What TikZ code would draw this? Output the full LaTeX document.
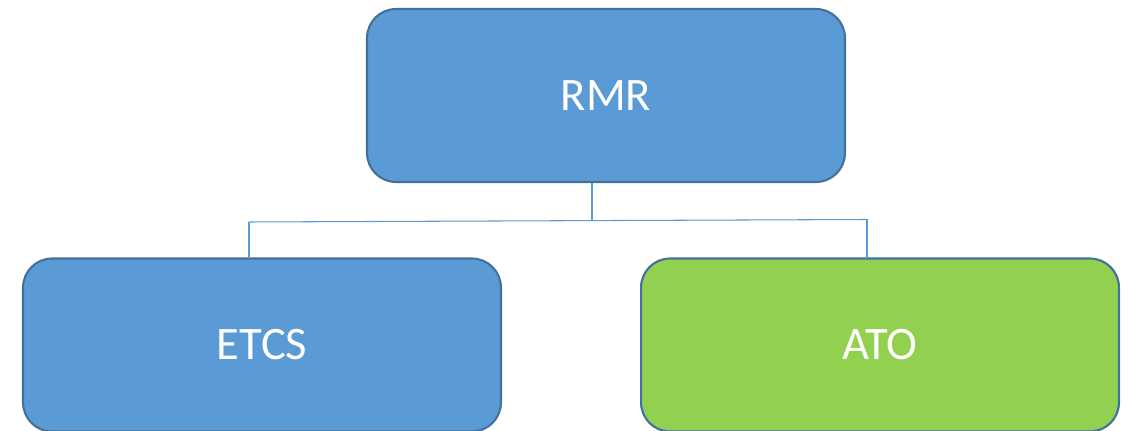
\documentclass[tikz,border=0pt]{standalone}
\usepackage{fontspec}
\setmainfont{Carlito}
\usetikzlibrary{calc}
\definecolor{boxblue}{HTML}{5B9BD5}
\definecolor{boxgreen}{HTML}{92D050}
\definecolor{boxedge}{HTML}{41719C}
\definecolor{linkblue}{HTML}{5B9BD5}
\begin{document}
\begin{tikzpicture}[x=0.02cm,y=-0.02cm,
  unit/.style={draw=boxedge, line width=1.2pt, rounded corners=0.58cm,
    minimum width=9.56cm, minimum height=3.46cm, inner sep=0pt,
    text=white, font=\fontsize{26.5}{31}\selectfont},
  bluebox/.style={unit, fill=boxblue},
  greenbox/.style={unit, fill=boxgreen},
  link/.style={draw=linkblue, line width=0.6pt}]
\useasboundingbox[fill=white] (0,0) rectangle (1128,431);
\node[bluebox]  (rmr)  at (606,95.5)  {RMR};
\node[bluebox]  (etcs) at (262,345)   {ETCS};
\node[greenbox] (ato)  at (880,345)   {ATO};
% branch points of the tree connector
\coordinate (mid)   at (592,221);
\coordinate (left)  at (249,222);
\coordinate (right) at (867,219.5);
\draw[link] (rmr.south -| mid) -- (mid);
\draw[link] (left) -- (right);
\draw[link] (left) -- (etcs.north -| left);
\draw[link] (right) -- (ato.north -| right);
\end{tikzpicture}
\end{document}
